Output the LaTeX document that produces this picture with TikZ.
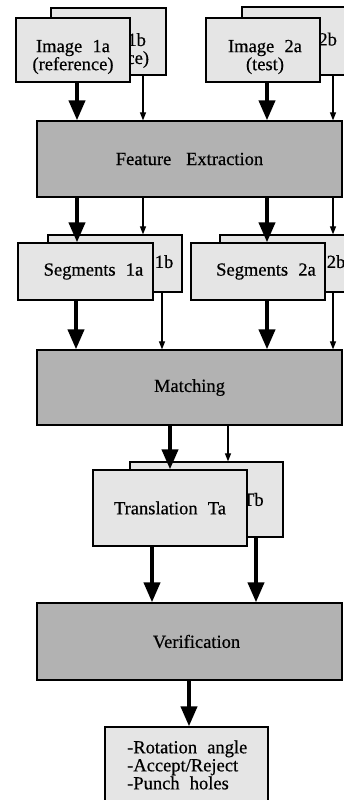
\documentclass[tikz,border=0pt]{standalone}
\usepackage{fontspec}
\setmainfont{Liberation Serif}
\newfontfamily\scanfont{Liberation Serif}[FakeBold=0.5]
\usetikzlibrary{arrows.meta, positioning}

\newcommand{\boxfont}{\scanfont\fontsize{18.5}{18}\selectfont\spaceskip=.55em\relax}

\tikzset{
    pale/.style={draw, line width=1.3pt, fill=black!10, inner sep=0pt},
    dark/.style={draw, line width=1.3pt, fill=black!30, inner sep=0pt,
        minimum width=305pt, font=\boxfont},
    words/.style={font=\boxfont, align=center, inner sep=0pt},
    fat/.style={line width=4pt, -{Triangle[width=16pt,length=20pt]}},
    slim/.style={line width=1.2pt, -{Triangle[width=6pt,length=8pt]}},
}

\begin{document}
\begin{tikzpicture}[x=1pt, y=-1pt]

    \useasboundingbox (0,0) rectangle (343,800);

    %% Input images

    % Second sheets
    \node[pale, minimum width=115pt, minimum height=67pt] (im1b) at (108.5,41.5) {};
    \node[words] (im1b-txt) at ([yshift=-9pt]im1b.center) {Image 1b\\(reference)};
    \node[pale, minimum width=115pt, minimum height=68pt] (im2b) at (299.5,41) {};
    \node[words] (im2b-txt) at ([yshift=-9pt]im2b.center) {Image 2b\\(test)};

    % First sheets
    \node[pale, minimum width=114pt, minimum height=64pt] (im1a) at (73,50) {};
    \node[words] (im1a-txt) at ([yshift=-7pt]im1a.center) {Image 1a\\(reference)};
    \node[pale, minimum width=114pt, minimum height=64pt] (im2a) at (263,50) {};
    \node[words] (im2a-txt) at ([xshift=2pt, yshift=-7pt]im2a.center) {Image 2a\\(test)};

    %% Processing stages
    \node[dark, minimum height=76pt] (feat) at (189.5,159) {Feature\hspace{.8em}Extraction};
    \node[dark, minimum height=75pt] (match) at (189.5,387.5) {Matching};
    \node[dark, minimum height=77pt] (verif) at (189.5,641.5) {};
    \node[words] (verif-txt) at ([xshift=7pt]verif.center) {Verification};

    %% Segments
    \node[pale, minimum width=134pt, minimum height=57pt] (seg1b) at (115,263.5) {};
    \node[words] (seg1b-txt) at ([xshift=8pt]seg1b.center) {Segments 1b};
    \node[pale, minimum width=134pt, minimum height=57pt] (seg2b) at (287,263.5) {};
    \node[words] (seg2b-txt) at ([xshift=8pt]seg2b.center) {Segments 2b};
    \node[pale, minimum width=135pt, minimum height=57pt] (seg1a) at (85.5,271.5) {};
    \node[words] (seg1a-txt) at ([xshift=8pt]seg1a.center) {Segments 1a};
    \node[pale, minimum width=134pt, minimum height=57pt] (seg2a) at (258,271.5) {};
    \node[words] (seg2a-txt) at ([xshift=8pt]seg2a.center) {Segments 2a};

    %% Translations
    \node[pale, minimum width=153pt, minimum height=75pt] (trb) at (206.5,499.5) {};
    \node[words] (trb-txt) at (trb.center) {Translation Tb};
    \node[pale, minimum width=154pt, minimum height=76pt] (tra) at (170,508) {};
    \node[words] (tra-txt) at (tra.center) {Translation Ta};

    %% Result
    \node[pale, minimum width=163pt, minimum height=78pt] (out) at (186.5,766) {};
    \node[words, align=left, anchor=west] (out-txt) at (127,765)
        {-Rotation angle\\-Accept/Reject\\-Punch holes};

    %% Arrows

    % Images -> feature extraction
    \draw[fat] ([xshift=4pt]im1a.south) -- ([xshift=4pt]im1a.south |- feat.north);
    \draw[slim] ([xshift=34.5pt]im1b.south) -- ([xshift=34.5pt]im1b.south |- feat.north);
    \draw[fat] ([xshift=4pt]im2a.south) -- ([xshift=4pt]im2a.south |- feat.north);
    \draw[slim] ([xshift=33.5pt]im2b.south) -- ([xshift=33.5pt]im2b.south |- feat.north);

    % Feature extraction -> segments
    \draw[fat] ([xshift=-8.5pt]seg1a.north |- feat.south) -- ([xshift=-8.5pt]seg1a.north);
    \draw[slim] ([xshift=28pt]seg1b.north |- feat.south) -- ([xshift=28pt]seg1b.north);
    \draw[fat] ([xshift=9pt]seg2a.north |- feat.south) -- ([xshift=9pt]seg2a.north);
    \draw[slim] ([xshift=46pt]seg2b.north |- feat.south) -- ([xshift=46pt]seg2b.north);

    % Segments -> matching
    \draw[fat] ([xshift=-9.5pt]seg1a.south) -- ([xshift=-9.5pt]seg1a.south |- match.north);
    \draw[slim] ([xshift=47pt]seg1b.south) -- ([xshift=47pt]seg1b.south |- match.north);
    \draw[fat] ([xshift=9pt]seg2a.south) -- ([xshift=9pt]seg2a.south |- match.north);
    \draw[slim] ([xshift=46pt]seg2b.south) -- ([xshift=46pt]seg2b.south |- match.north);

    % Matching -> translations
    \draw[fat] (tra.north |- match.south) -- (tra.north);
    \draw[slim] ([xshift=21.5pt]trb.north |- match.south) -- ([xshift=21.5pt]trb.north);

    % Translations -> verification
    \draw[fat] ([xshift=-18pt]tra.south) -- ([xshift=-18pt]tra.south |- verif.north);
    \draw[fat] ([xshift=49.5pt]trb.south) -- ([xshift=49.5pt]trb.south |- verif.north);

    % Verification -> result
    \draw[fat] ([xshift=2.5pt]out.north |- verif.south) -- ([xshift=2.5pt]out.north);

\end{tikzpicture}
\end{document}
